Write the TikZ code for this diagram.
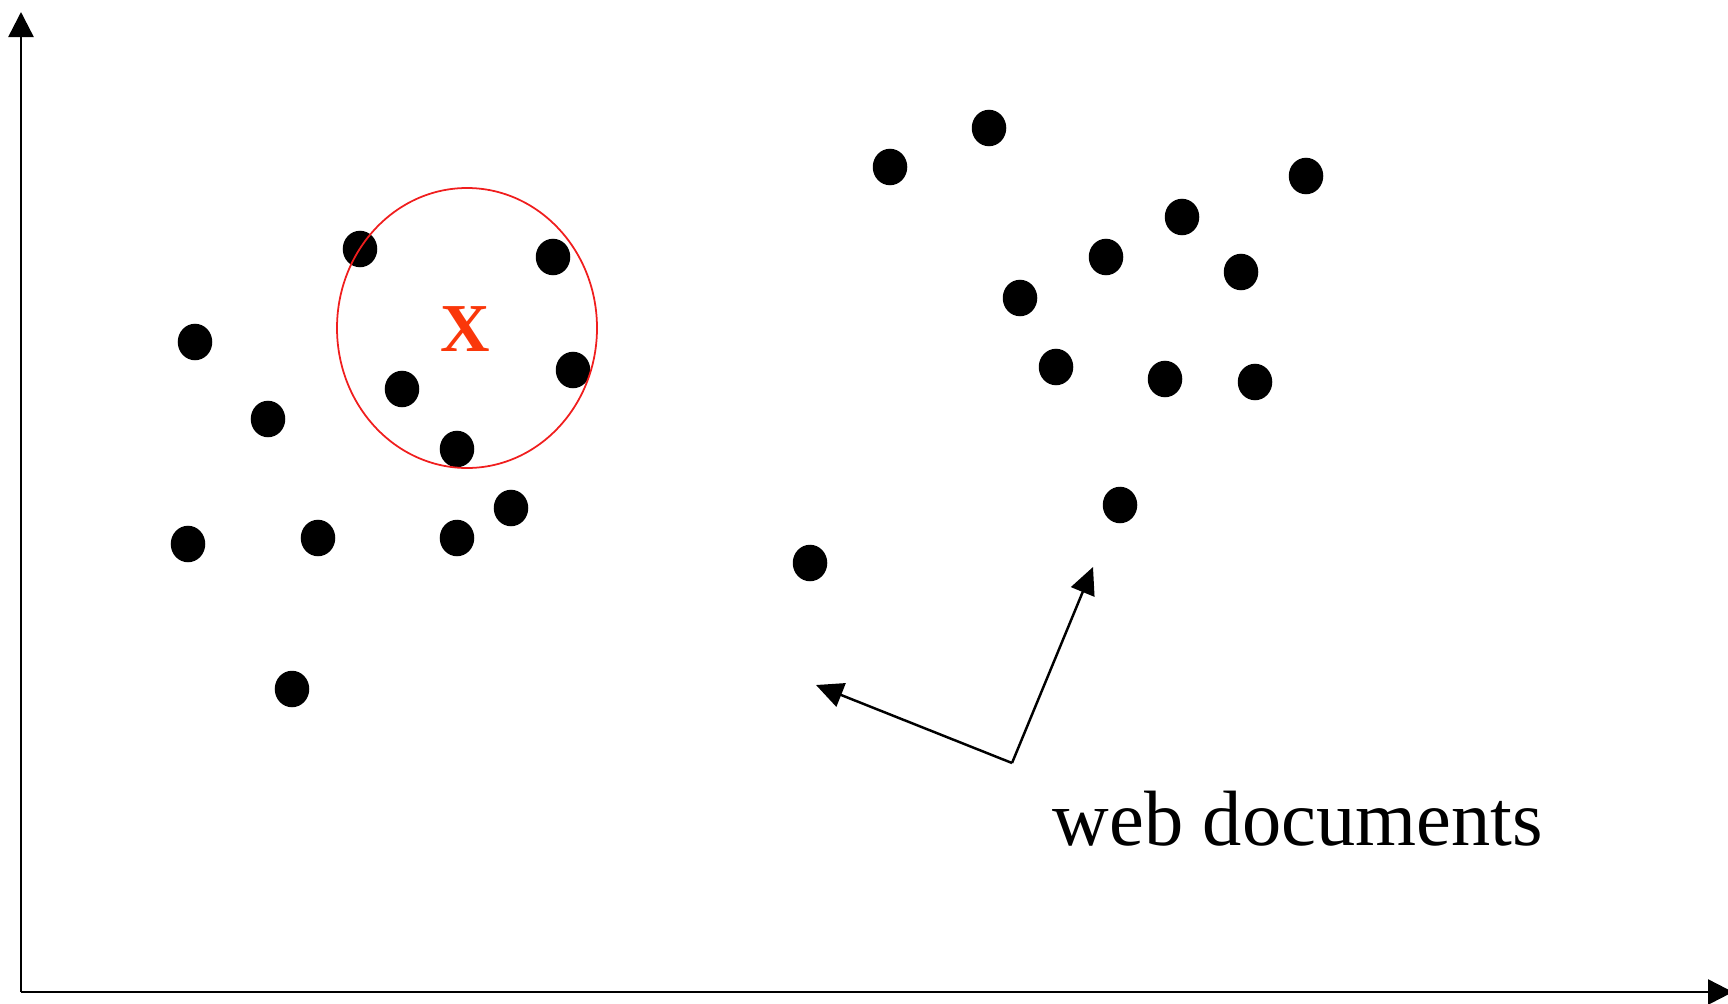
\documentclass[tikz,border=0pt]{standalone}
\usepackage{fontspec}
\setmainfont{Liberation Serif}
\usetikzlibrary{arrows.meta,shapes.geometric}
\definecolor{xred}{RGB}{250,55,10}
\definecolor{ringred}{RGB}{240,30,30}
\tikzset{
  doc/.style={ellipse, fill=black, inner sep=0pt, minimum width=0.345cm, minimum height=0.365cm},
  axis/.style={line width=0.7pt, -{Triangle[length=0.25cm,width=0.25cm]}},
  pointer/.style={line width=0.7pt, -{Triangle[length=0.27cm,width=0.25cm]}},
}
\begin{document}
\begin{tikzpicture}[x=0.01cm,y=-0.01cm]
\useasboundingbox (0,0) rectangle (1728,1003);
% axes
\coordinate (o) at (21,992);
\coordinate (ytip) at (21,12);
\coordinate (xtip) at (1733,992);
\draw[axis] (o) -- (ytip);
\draw[axis] (o) -- (xtip);
% left cluster
\node[doc] (a1) at (360,249) {};
\node[doc] (a2) at (553,257) {};
\node[doc] (a3) at (195,342) {};
\node[doc] (a4) at (402,389) {};
\node[doc] (a5) at (573,370) {};
\node[doc] (a6) at (268,419) {};
\node[doc] (a7) at (457,449) {};
\node[doc] (a8) at (511,508) {};
\node[doc] (a9) at (188,544) {};
\node[doc] (a10) at (318,538) {};
\node[doc] (a11) at (457,538) {};
\node[doc] (a12) at (292,689) {};
% query circle
\draw[ringred, line width=0.5pt] (467,328) ellipse [x radius=130, y radius=140];
\node[text=xred, font=\fontsize{19.5}{20}\selectfont\bfseries] (x) at (465,329) {X};
% right cluster
\node[doc] (b1) at (890,167) {};
\node[doc] (b2) at (989,128) {};
\node[doc] (b3) at (1306,176) {};
\node[doc] (b4) at (1182,217) {};
\node[doc] (b5) at (1106,257) {};
\node[doc] (b6) at (1241,272) {};
\node[doc] (b7) at (1020,298) {};
\node[doc] (b8) at (1056,367) {};
\node[doc] (b9) at (1165,379) {};
\node[doc] (b10) at (1255,382) {};
\node[doc] (b11) at (1120,505) {};
\node[doc] (b12) at (810,563) {};
% label with pointers
\coordinate (corner) at (1012,763);
\coordinate (ptl) at (816,685);
\coordinate (ptr) at (1093,567);
\draw[pointer] (corner) -- (ptl);
\draw[pointer] (corner) -- (ptr);
\node[anchor=base west, inner sep=0pt, font=\fontsize{22.3}{26}\selectfont] (lbl) at (1052,845) {web documents};
\end{tikzpicture}
\end{document}
